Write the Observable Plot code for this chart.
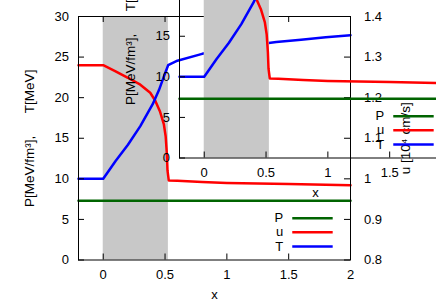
<!DOCTYPE html>
<html><head><meta charset="utf-8">
<script src="https://cdn.jsdelivr.net/npm/d3@7"></script>
<script src="https://cdn.jsdelivr.net/npm/@observablehq/plot@0.6"></script>
<style>
html,body{margin:0;padding:0;background:#fff;}
#wrap{position:relative;width:436px;height:305px;overflow:hidden;background:#fff;}
#wrap svg{position:absolute;}
</style></head><body><div id="wrap"></div>
<script>
// ---- data ----
const xT = [-0.2, 0, 0.1, 0.2, 0.3, 0.4, 0.45, 0.5, 0.525, 0.55, 0.6, 0.8, 1.0, 1.2, 1.4, 1.6, 1.8, 2.0];
const T  = [10, 10, 12.2, 14.2, 16.5, 19.2, 20.9, 23.0, 24.0, 24.2, 24.55, 25.4, 25.95, 26.45, 26.85, 27.15, 27.45, 27.7];
const xU = [-0.2, 0, 0.1, 0.2, 0.3, 0.38, 0.42, 0.46, 0.49, 0.505, 0.515, 0.52, 0.53, 0.6, 0.8, 1.0, 1.5, 2.0];
const U  = [1.28, 1.28, 1.265, 1.249, 1.232, 1.212, 1.193, 1.165, 1.135, 1.105, 1.06, 1.02, 0.996, 0.995, 0.992, 0.990, 0.987, 0.984];
const xP = [-0.2, 2.0];
const P  = [7.3, 7.3];
const shockBand = [0, 0.527];
const xTicks = [0, 0.5, 1, 1.5, 2];
const yTicks = [0, 5, 10, 15, 20, 25, 30];
const uTicks = [0.8, 0.9, 1.0, 1.1, 1.2, 1.3, 1.4];
const seriesNames = ["P", "u", "T"];
const seriesColors = ["#006400", "#ff0000", "#0000ff"];
const yLabel = "P[MeV/fm\u00b3],\u00a0\u00a0\u00a0\u00a0\u00a0\u00a0T[MeV]";
const y2Label = "u [10\u2074 cm/s]";
const xLabel = "x";

// right axis (u) mapped onto left (P,T) scale
const uMin = 0.8, uMax = 1.4, yMax = 30;
const u2y = u => (u - uMin) / (uMax - uMin) * yMax;
const y2u = y => uMin + y / yMax * (uMax - uMin);

const W = 436, H = 305, mL = 78, mR = 86, mT = 16, mB = 45.5;
const fw = W - mL - mR, fh = H - mT - mB;
const tk = 6;
const pxPerX = fw / 2.2;
// label / legend placement (data units derived from pixel offsets)
const yLabelX = -0.2 - 49 / pxPerX;
const y2LabelX = 2 + 55 / pxPerX;
const legY = [5.15, 3.43, 1.66];
const legX1 = 1.533, legX2 = 1.86, legTX = 1.456;

function chart(bg) {
  const lw = 2.5;
  const series = [
    {x: xP, y: P},
    {x: xU, y: U.map(u2y)},
    {x: xT, y: T}
  ];
  return Plot.plot({
    width: W, height: H,
    marginLeft: mL, marginRight: mR, marginTop: mT, marginBottom: mB,
    style: {background: bg, fontFamily: "'Liberation Sans', Arial, Helvetica, sans-serif", fontSize: "13px", color: "black", overflow: "visible"},
    x: {domain: [-0.2, 2]},
    y: {domain: [0, 30]},
    marks: [
      Plot.rect([shockBand], {x1: d => d[0], x2: d => d[1], y1: () => 0, y2: () => 30, fill: "#c8c8c8"}),
      ...series.map((s, k) => Plot.line(d3.range(s.x.length), {x: i => s.x[i], y: i => s.y[i], stroke: seriesColors[k], strokeWidth: lw})),
      Plot.frame({stroke: "black", strokeWidth: 1}),
      Plot.tickY(yTicks, {y: d => d, insetRight: fw - tk, stroke: "black"}),
      Plot.tickY(uTicks.map(u2y), {y: d => d, insetLeft: fw - tk, stroke: "black"}),
      Plot.tickX(xTicks, {x: d => d, insetTop: fh - tk, stroke: "black"}),
      Plot.tickX(xTicks, {x: d => d, insetBottom: fh - tk, stroke: "black"}),
      Plot.axisY(yTicks, {anchor: "left", tickSize: 0, tickPadding: 9.5, label: null}),
      Plot.axisY(uTicks.map(u2y), {anchor: "right", tickSize: 0, tickPadding: 13.5, label: null, tickFormat: y => String(+y2u(y).toFixed(2))}),
      Plot.axisX(xTicks, {anchor: "bottom", tickSize: 0, tickPadding: 10, label: null, tickFormat: d => String(d)}),
      Plot.text([xLabel], {frameAnchor: "bottom", dy: 35, lineAnchor: "middle"}),
      Plot.text([yLabel], {x: () => yLabelX, y: () => 15, rotate: -90, lineAnchor: "middle", fontSize: 13.5}),
      Plot.text([y2Label], {x: () => y2LabelX, y: () => 15, rotate: -90, lineAnchor: "middle", fontSize: 13.5}),
      Plot.text(seriesNames, {x: () => legTX, y: (d, i) => legY[i], textAnchor: "end", lineAnchor: "middle"}),
      Plot.ruleY(seriesNames, {y: (d, i) => legY[i], x1: () => legX1, x2: () => legX2, stroke: (d, i) => seriesColors[i], strokeWidth: lw})
    ]
  });
}

const wrap = document.getElementById("wrap");
const main = chart("white");
main.style.left = "0px"; main.style.top = "0px";
wrap.appendChild(main);
const inset = chart("transparent");
inset.style.left = "101px"; inset.style.top = "-102px";
wrap.appendChild(inset);
</script></body></html>
